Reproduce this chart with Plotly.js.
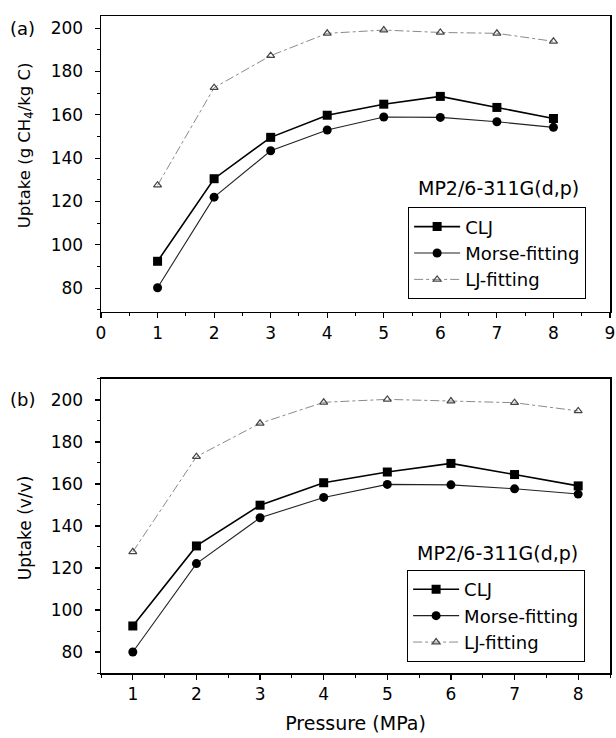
<!DOCTYPE html>
<html>
<head>
<meta charset="utf-8">
<script src="https://cdn.plot.ly/plotly-3.0.1.min.js"></script>
<style>html,body{margin:0;padding:0;background:#fff;}#chart{width:616px;height:738px;}</style>
</head>
<body>
<div id="chart"></div>
<script>
// ---- data ----
const pressure = [1, 2, 3, 4, 5, 6, 7, 8];
const seriesNames = ["CLJ", "Morse-fitting", "LJ-fitting"];
// panel (a): uptake in g CH4 / kg C
const a_clj   = [92.4, 130.5, 149.6, 159.8, 164.9, 168.5, 163.4, 158.3];
const a_morse = [80.2, 122.0, 143.4, 153.0, 159.0, 158.8, 156.8, 154.2];
const a_lj    = [127.5, 172.5, 187.3, 197.6, 199.1, 198.0, 197.6, 193.9];
// panel (b): uptake in v/v
const b_clj   = [92.4, 130.5, 149.9, 160.6, 165.7, 169.8, 164.5, 159.1];
const b_morse = [80.0, 122.1, 143.9, 153.6, 159.8, 159.6, 157.7, 155.2];
const b_lj    = [127.7, 173.0, 188.9, 198.9, 200.3, 199.5, 198.7, 194.8];
const yTickVals = [80, 100, 120, 140, 160, 180, 200];
const xTickA = [0, 1, 2, 3, 4, 5, 6, 7, 8, 9];
const xTickB = [1, 2, 3, 4, 5, 6, 7, 8];
const methodLabel = "MP2/6-311G(d,p)";
const panelLabels = ["(a)", "(b)"];
const yTitleA = "Uptake (g CH<sub>4</sub>/kg C)";
const yTitleB = "Uptake (v/v)";
const xTitle = "Pressure (MPa)";

// ---- styles ----
const FONT = "DejaVu Sans";
const styles = [
  {line: {color: "#000", width: 1.6}, marker: {symbol: "square", size: 9, color: "#000"}},
  {line: {color: "#222", width: 1.1}, marker: {symbol: "circle", size: 9, color: "#000"}},
  {line: {color: "#8a8a8a", width: 1, dash: "dashdot"}, marker: {symbol: "triangle-up-open", size: 7, color: "#444", line: {width: 1.2}}}
];

function mk(y, i, xa, ya, leg) {
  return Object.assign({
    type: "scatter", mode: "lines+markers", x: pressure, y: y,
    name: seriesNames[i], xaxis: xa, yaxis: ya, legend: leg
  }, JSON.parse(JSON.stringify(styles[i])));
}

const data = [
  mk(a_clj, 0, "x", "y", "legend"),
  mk(a_morse, 1, "x", "y", "legend"),
  mk(a_lj, 2, "x", "y", "legend"),
  mk(b_clj, 0, "x2", "y2", "legend2"),
  mk(b_morse, 1, "x2", "y2", "legend2"),
  mk(b_lj, 2, "x2", "y2", "legend2")
];

const axCommon = {
  showline: true, linecolor: "#000", linewidth: 1.5, mirror: true,
  ticks: "outside", ticklen: 5, tickwidth: 1.2, tickcolor: "#000",
  showgrid: false, zeroline: false,
  tickfont: {family: FONT, size: 17, color: "#000"}
};

const legCommon = {
  bgcolor: "rgba(255,255,255,1)", bordercolor: "#000", borderwidth: 1.2,
  font: {family: FONT, size: 18, color: "#000"},
  xanchor: "left", yanchor: "top", itemwidth: 46,
  traceorder: "normal"
};

const layout = {
  width: 616, height: 738,
  margin: {l: 101, r: 6, t: 16, b: 65},
  paper_bgcolor: "#fff", plot_bgcolor: "#fff",
  font: {family: FONT, size: 17, color: "#000"},
  showlegend: true,
  xaxis: Object.assign({}, axCommon, {
    domain: [0, 1], anchor: "y", range: [0, 9], tickvals: xTickA,
    minor: {dtick: 0.5, ticks: "outside", ticklen: 3, tickcolor: "#000", tickwidth: 1}
  }),
  yaxis: Object.assign({}, axCommon, {
    domain: [0.5495, 1], anchor: "x", range: [69, 205.6], tickvals: yTickVals,
    ticklabelstandoff: 8,
    minor: {dtick: 10, ticks: "outside", ticklen: 3, tickcolor: "#000", tickwidth: 1}
  }),
  xaxis2: Object.assign({}, axCommon, {
    domain: [0, 1], anchor: "y2", range: [0.5, 8.5], tickvals: xTickB,
    title: {text: xTitle, font: {family: FONT, size: 19, color: "#000"}, standoff: 14},
    minor: {dtick: 0.5, ticks: "outside", ticklen: 3, tickcolor: "#000", tickwidth: 1}
  }),
  yaxis2: Object.assign({}, axCommon, {
    domain: [0, 0.4475], anchor: "x2", range: [70, 210], tickvals: yTickVals,
    ticklabelstandoff: 8,
    minor: {dtick: 10, ticks: "outside", ticklen: 3, tickcolor: "#000", tickwidth: 1}
  }),
  legend: Object.assign({}, legCommon, {x: 0.603, y: 0.709}),
  legend2: Object.assign({}, legCommon, {x: 0.601, y: 0.157}),
  annotations: [
    {text: methodLabel, xref: "paper", yref: "paper", x: 0.78, y: 0.738, showarrow: false,
     xanchor: "center", yanchor: "middle", font: {family: FONT, size: 19, color: "#000"}},
    {text: methodLabel, xref: "paper", yref: "paper", x: 0.778, y: 0.1826, showarrow: false,
     xanchor: "center", yanchor: "middle", font: {family: FONT, size: 19, color: "#000"}},
    {text: panelLabels[0], xref: "paper", yref: "y", x: -0.155, y: 200, showarrow: false,
     xanchor: "center", yanchor: "middle", font: {family: FONT, size: 18, color: "#000"}},
    {text: panelLabels[1], xref: "paper", yref: "y2", x: -0.155, y: 200, showarrow: false,
     xanchor: "center", yanchor: "middle", font: {family: FONT, size: 18, color: "#000"}},
    {text: yTitleA, xref: "paper", yref: "y", x: -0.149, y: 146, textangle: -90, showarrow: false,
     xanchor: "center", yanchor: "middle", font: {family: FONT, size: 16.5, color: "#000"}},
    {text: yTitleB, xref: "paper", yref: "y2", x: -0.149, y: 139, textangle: -90, showarrow: false,
     xanchor: "center", yanchor: "middle", font: {family: FONT, size: 17, color: "#000"}}
  ]
};

Plotly.newPlot("chart", data, layout, {displayModeBar: false, staticPlot: true});
</script>
</body>
</html>
